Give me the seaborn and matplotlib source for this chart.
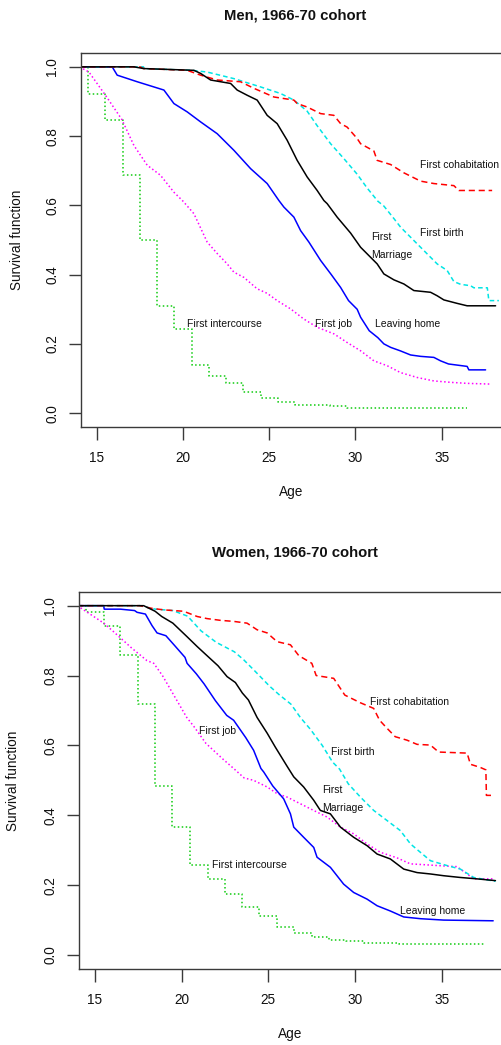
import numpy as np
import pandas as pd
import matplotlib
matplotlib.use("Agg")
import matplotlib.pyplot as plt
import seaborn as sns
from matplotlib import font_manager as fm

# ---------------- data ----------------
# Men, 1966-70 cohort
men_marriage_age = [14.0, 17.15, 17.73, 20.63, 21.02, 21.6, 22.76, 23.14, 23.72, 24.3, 24.88, 25.46, 26.04,
                    26.62, 27.2, 27.78, 28.17, 28.36, 28.94, 29.72, 30.3, 30.88, 31.26, 31.65, 32.23, 32.81,
                    33.39, 34.36, 34.74, 35.13, 35.9, 36.48, 38.13]
men_marriage_surv = [1.0, 1.0, 0.995, 0.99, 0.981, 0.962, 0.952, 0.933, 0.918, 0.904, 0.860, 0.836, 0.788,
                     0.730, 0.682, 0.643, 0.614, 0.605, 0.566, 0.520, 0.479, 0.450, 0.431, 0.402, 0.385, 0.373,
                     0.354, 0.349, 0.339, 0.327, 0.317, 0.310, 0.310]

men_cohab_age = [14.0, 17.5, 17.7, 20.24, 21.02, 21.98, 23.33, 24.11, 25.27, 26.43, 26.62, 27.2, 27.98, 28.75,
                 29.14, 29.52, 30.1, 30.3, 31.07, 31.26, 32.04, 32.81, 33.78, 34.55, 35.71, 36.0, 37.93]
men_cohab_surv = [1.0, 1.0, 0.995, 0.99, 0.976, 0.962, 0.957, 0.938, 0.913, 0.904, 0.894, 0.884, 0.865, 0.860,
                  0.836, 0.826, 0.793, 0.778, 0.757, 0.730, 0.718, 0.694, 0.670, 0.663, 0.657, 0.643, 0.643]

men_birth_age = [14.0, 17.7, 17.75, 20.5, 21.4, 22.95, 24.5, 25.66, 26.43, 27.2, 27.78, 28.56, 29.33, 30.1,
                 30.68, 31.3, 31.65, 32.23, 32.62, 33.2, 33.78, 34.36, 34.74, 35.32, 35.71, 36.1, 36.68, 36.87,
                 37.65, 37.74, 38.32]
men_birth_surv = [1.0, 1.0, 0.995, 0.99, 0.985, 0.966, 0.942, 0.923, 0.904, 0.872, 0.830, 0.778, 0.735, 0.690,
                  0.650, 0.612, 0.598, 0.562, 0.537, 0.508, 0.479, 0.450, 0.431, 0.412, 0.380, 0.372, 0.368,
                  0.362, 0.362, 0.325, 0.325]

men_home_age = [14.0, 15.89, 16.18, 17.34, 18.31, 18.89, 19.47, 20.24, 21.02, 21.98, 22.95, 23.92, 24.88,
                25.56, 25.85, 26.43, 26.82, 27.3, 27.98, 28.6, 29.14, 29.6, 30.1, 30.3, 30.8, 31.3, 31.65,
                32.04, 32.6, 33.2, 33.78, 34.55, 34.94, 35.4, 36.48, 36.58, 37.55]
men_home_surv = [1.0, 1.0, 0.976, 0.957, 0.942, 0.933, 0.894, 0.870, 0.841, 0.807, 0.759, 0.706, 0.663,
                 0.614, 0.595, 0.566, 0.527, 0.494, 0.441, 0.400, 0.363, 0.325, 0.300, 0.277, 0.238, 0.218,
                 0.200, 0.190, 0.180, 0.168, 0.164, 0.161, 0.151, 0.142, 0.135, 0.125, 0.125]

men_job_age = [14.0, 14.54, 15.5, 16.45, 17.15, 17.92, 18.69, 19.47, 20.0, 20.63, 21.4, 22.0, 22.56, 22.95,
               23.53, 24.3, 24.88, 25.46, 26.24, 27.0, 27.78, 28.75, 29.52, 30.3, 31.07, 31.84, 32.62, 33.58,
               34.55, 35.52, 36.48, 37.8]
men_job_surv = [1.0, 0.985, 0.918, 0.848, 0.773, 0.716, 0.687, 0.638, 0.612, 0.576, 0.494, 0.460, 0.431,
                0.407, 0.392, 0.359, 0.346, 0.325, 0.301, 0.272, 0.248, 0.229, 0.204, 0.180, 0.151, 0.137,
                0.117, 0.103, 0.093, 0.089, 0.086, 0.084]

men_sex_age = [14.0, 14.5, 15.5, 16.5, 17.5, 18.5, 19.5, 20.5, 21.5, 22.5, 23.5, 24.5, 25.5, 26.5, 28.5,
               29.5, 36.45]
men_sex_surv = [1.0, 0.923, 0.846, 0.689, 0.501, 0.308, 0.243, 0.139, 0.106, 0.087, 0.060, 0.044, 0.032,
                0.023, 0.020, 0.015, 0.015]

# Women, 1966-70 cohort
women_marriage_age = [14.0, 17.82, 18.48, 18.86, 19.5, 20.3, 20.9, 21.4, 22.1, 22.62, 23.1, 23.5, 23.85, 24.35,
                      24.93, 25.4, 26.08, 26.46, 27.03, 27.61, 27.99, 28.57, 29.15, 29.91, 30.68, 31.26, 32.02,
                      32.79, 33.56, 34.33, 35.09, 36.05, 37.01, 38.07]
women_marriage_surv = [1.0, 1.0, 0.984, 0.969, 0.950, 0.912, 0.883, 0.860, 0.828, 0.797, 0.780, 0.750, 0.730,
                       0.680, 0.635, 0.595, 0.540, 0.510, 0.481, 0.443, 0.414, 0.404, 0.366, 0.337, 0.313, 0.289,
                       0.275, 0.246, 0.236, 0.232, 0.227, 0.222, 0.218, 0.213]

women_cohab_age = [14.0, 17.6, 18.21, 18.97, 20.12, 20.9, 21.47, 22.24, 23.0, 23.77, 24.35, 24.93, 25.5, 26.27,
                   26.75, 27.5, 27.75, 28.76, 29.4, 30.3, 31.06, 31.4, 31.83, 32.3, 32.98, 33.56, 34.33, 34.8,
                   36.44, 36.63, 37.2, 37.52, 37.55, 37.94]
women_cohab_surv = [1.0, 1.0, 0.993, 0.988, 0.984, 0.969, 0.963, 0.958, 0.955, 0.950, 0.931, 0.922, 0.897,
                    0.888, 0.857, 0.835, 0.800, 0.792, 0.744, 0.722, 0.706, 0.672, 0.649, 0.625, 0.615, 0.603,
                    0.601, 0.581, 0.578, 0.546, 0.537, 0.530, 0.457, 0.457]

women_birth_age = [14.0, 17.6, 18.5, 19.5, 20.35, 21.12, 22.0, 23.04, 23.58, 24.2, 25.06, 25.6, 26.3, 26.84,
                   27.42, 28.1, 28.7, 29.1, 29.6, 30.3, 31.06, 31.83, 32.6, 33.18, 33.75, 34.33, 35.29, 36.05,
                   36.82, 38.07]
women_birth_surv = [1.0, 1.0, 0.99, 0.986, 0.97, 0.928, 0.895, 0.868, 0.845, 0.814, 0.770, 0.746, 0.718,
                    0.680, 0.646, 0.600, 0.552, 0.532, 0.490, 0.452, 0.414, 0.385, 0.356, 0.318, 0.294, 0.270,
                    0.256, 0.246, 0.222, 0.211]

women_home_age = [14.0, 15.52, 15.55, 16.48, 17.3, 17.44, 17.92, 18.3, 18.59, 19.1, 19.6, 20.2, 20.32, 20.85,
                  21.3, 21.95, 22.6, 23.0, 23.7, 24.15, 24.57, 24.73, 25.25, 25.88, 26.27, 26.46, 27.03, 27.61,
                  27.8, 28.57, 28.95, 29.33, 29.91, 30.68, 31.26, 32.02, 32.79, 33.75, 35.09, 37.94]
women_home_surv = [1.0, 1.0, 0.99, 0.99, 0.986, 0.981, 0.976, 0.943, 0.922, 0.914, 0.886, 0.852, 0.835, 0.805,
                   0.776, 0.728, 0.686, 0.672, 0.622, 0.586, 0.534, 0.524, 0.484, 0.447, 0.404, 0.366, 0.337,
                   0.308, 0.280, 0.251, 0.227, 0.203, 0.179, 0.160, 0.141, 0.126, 0.109, 0.104, 0.100, 0.098]

women_job_age = [14.0, 14.7, 15.52, 16.1, 17.1, 18.0, 18.4, 18.9, 19.6, 20.3, 20.7, 21.4, 22.4, 23.0, 23.6,
                 24.15, 24.93, 25.5, 26.08, 26.84, 27.6, 28.38, 29.15, 29.91, 30.68, 31.45, 32.41, 33.17, 34.14,
                 35.09, 35.86, 36.44, 36.82, 37.97]
women_job_surv = [1.0, 0.977, 0.95, 0.925, 0.880, 0.843, 0.835, 0.80, 0.740, 0.680, 0.655, 0.606, 0.560,
                  0.534, 0.507, 0.500, 0.481, 0.462, 0.452, 0.433, 0.414, 0.395, 0.366, 0.347, 0.318, 0.294,
                  0.278, 0.261, 0.258, 0.255, 0.253, 0.232, 0.218, 0.218]

women_sex_age = [14.0, 14.52, 15.52, 16.48, 17.48, 18.45, 19.47, 20.51, 21.5, 22.48, 23.49, 24.48, 25.48,
                 26.46, 27.49, 28.47, 29.47, 30.49, 32.5, 37.4]
women_sex_surv = [1.0, 0.982, 0.943, 0.859, 0.719, 0.483, 0.367, 0.257, 0.218, 0.176, 0.137, 0.111, 0.080,
                  0.062, 0.052, 0.044, 0.040, 0.035, 0.031, 0.031]

x_ticks = [15, 20, 25, 30, 35]
y_ticks = [0.0, 0.2, 0.4, 0.6, 0.8, 1.0]
y_tick_labels = ["0.0", "0.2", "0.4", "0.6", "0.8", "1.0"]

titles = ["Men, 1966-70 cohort", "Women, 1966-70 cohort"]
x_label = "Age"
y_label = "Survival function"

# labels: (text, age, survival) — left-aligned, vertically centred
men_labels = [("First cohabitation", 33.74, 0.718), ("First birth", 33.74, 0.520),
              ("First\nMarriage", 30.93, 0.484), ("First intercourse", 20.24, 0.256),
              ("First job", 27.65, 0.256), ("Leaving home", 31.13, 0.256)]
women_labels = [("First cohabitation", 30.83, 0.725), ("First birth", 28.63, 0.581),
                ("First job", 21.01, 0.641), ("First\nMarriage", 28.09, 0.448),
                ("First intercourse", 21.78, 0.257), ("Leaving home", 32.58, 0.126)]

# ---------------- styling ----------------
sns.set_theme(style="ticks")
names = {f.name for f in fm.fontManager.ttflist}
if "Liberation Sans Narrow" in names:
    fam = "Liberation Sans Narrow"
    fs_note, fs_tick, fs_lab, fs_title, lsp = 8.8, 11, 11, 12, 1.75
else:
    fam = "Liberation Sans"
    fs_note, fs_tick, fs_lab, fs_title, lsp = 7.5, 9.8, 9.8, 10.7, 2.0
plt.rcParams["font.family"] = [fam, "DejaVu Sans"]

series_style = {
    "marriage": dict(color="#000000", ls="-", step=False),
    "cohab": dict(color="#FF0000", ls=(0, (4, 2.5)), step=False),
    "birth": dict(color="#00E5E5", ls=(0, (3, 2)), step=False),
    "home": dict(color="#0000FF", ls="-", step=False),
    "job": dict(color="#FF00FF", ls=(0, (1, 1.6)), step=False),
    "sex": dict(color="#11CC11", ls=(0, (1, 1.6)), step=True),
}

men = {"marriage": (men_marriage_age, men_marriage_surv), "cohab": (men_cohab_age, men_cohab_surv),
       "birth": (men_birth_age, men_birth_surv), "home": (men_home_age, men_home_surv),
       "job": (men_job_age, men_job_surv), "sex": (men_sex_age, men_sex_surv)}
women = {"marriage": (women_marriage_age, women_marriage_surv), "cohab": (women_cohab_age, women_cohab_surv),
         "birth": (women_birth_age, women_birth_surv), "home": (women_home_age, women_home_surv),
         "job": (women_job_age, women_job_surv), "sex": (women_sex_age, women_sex_surv)}

fig = plt.figure(figsize=(5.02, 10.45), dpi=100)
ax_top = fig.add_axes([81 / 502, 1 - 427 / 1045, 428.2 / 502, 374 / 1045])
ax_bot = fig.add_axes([78.7 / 502, 1 - 969 / 1045, 431.5 / 502, 377.3 / 1045])

spine_col = "#3a3a3a"
panels = [(ax_top, men, men_labels, titles[0], -0.150, -0.174, 1.099),
          (ax_bot, women, women_labels, titles[1], -0.152, -0.172, 1.1026)]

for ax, data, labels, title, ylx, xly, ty in panels:
    for key in ["sex", "job", "home", "birth", "cohab", "marriage"]:
        ages, surv = data[key]
        st = series_style[key]
        df = pd.DataFrame({"age": ages, "surv": surv})
        sns.lineplot(data=df, x="age", y="surv", ax=ax, color=st["color"], linestyle=st["ls"],
                     linewidth=1.1, sort=False, estimator=None,
                     drawstyle="steps-post" if st["step"] else "default")
    for txt, xa, ya in labels:
        ax.text(xa, ya, txt, ha="left", va="center", fontsize=fs_note, color="#111111", linespacing=lsp)
    ax.set_xlim(14.08, 38.92)
    ax.set_ylim(-0.04, 1.04)
    ax.set_xticks(x_ticks)
    ax.set_yticks(y_ticks)
    ax.set_yticklabels(y_tick_labels)
    ax.tick_params(axis="both", direction="out", length=9, width=1, color=spine_col,
                   labelsize=fs_tick, labelcolor="#111111")
    ax.tick_params(axis="x", pad=8)
    ax.tick_params(axis="y", pad=6.5)
    for lbl in ax.get_yticklabels():
        lbl.set_rotation(90)
        lbl.set_va("center")
        lbl.set_ha("right")
    for sp in ax.spines.values():
        sp.set_color(spine_col)
        sp.set_linewidth(1.0)
    ax.set_xlabel(x_label, fontsize=fs_lab, color="#111111")
    ax.set_ylabel(y_label, fontsize=fs_lab, color="#111111")
    ax.xaxis.set_label_coords(0.49, xly)
    ax.xaxis.label.set_va("center")
    ax.yaxis.set_label_coords(ylx, 0.5)
    ax.yaxis.label.set_va("center")
    ax.set_title(title, y=ty, va="center", fontsize=fs_title, fontweight="bold", color="#111111", pad=0)
    ax.grid(False)

fig.savefig("out.png", dpi=100)
